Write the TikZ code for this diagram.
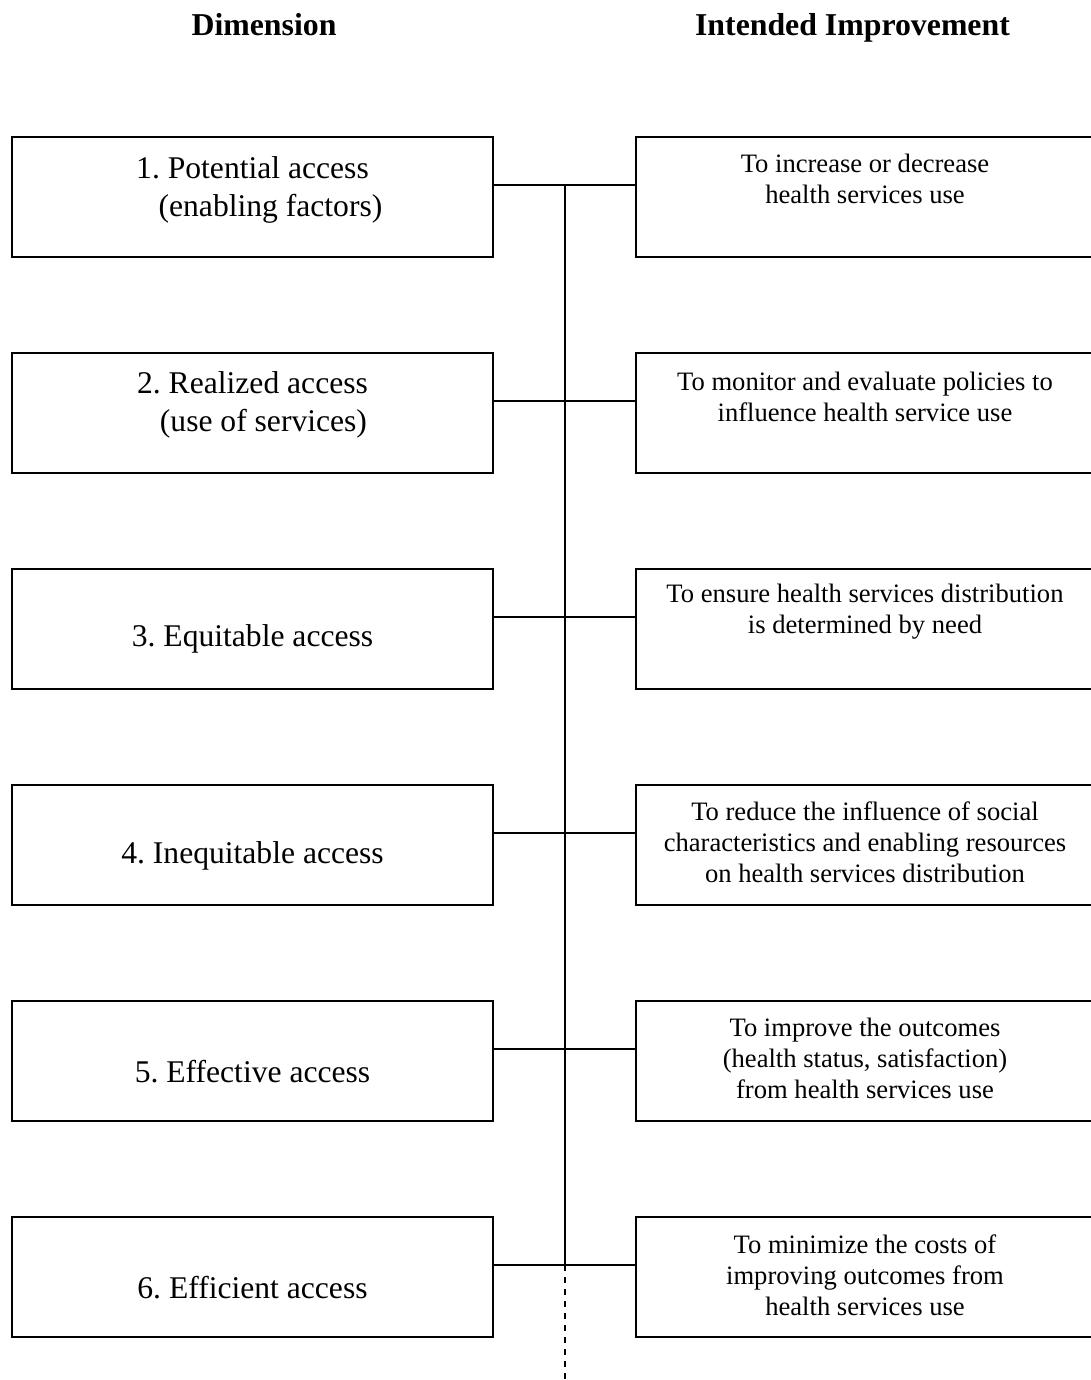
\documentclass[tikz,border=0pt]{standalone}
\usepackage{fontspec}
\setmainfont{Liberation Serif}
\tikzset{
    dimbox/.style={draw,line width=0.7pt,minimum width=240.5pt,minimum height=60pt,inner sep=0pt},
    impbox/.style={draw,line width=0.7pt,minimum width=229pt,minimum height=60pt,inner sep=0pt},
    dimtext/.style={align=center,inner sep=0pt,font=\fontsize{15.8}{19}\selectfont},
    imptext/.style={align=center,inner sep=0pt,font=\fontsize{13.3}{15.5}\selectfont},
    head/.style={inner sep=0pt,anchor=base,font=\bfseries\fontsize{15.9}{19}\selectfont},
    link/.style={line width=0.7pt}
}
% #1 row, #2 top edge, #3/#4 dimension text offset and text, #5/#6 improvement text offset and text
\newcommand{\dimrow}[6] {
    \node[dimbox] (L#1) at (252.5, {#2+60}) {};
    \node[impbox] (R#1) at (865, {#2+60}) {};
    \node[dimtext] (L#1t) at (252.5, {#2+#3}) {#4};
    \node[imptext] (R#1t) at (865, {#2+#5}) {#6};
    \coordinate (c#1) at (565, {#2+48});
    \draw[link] (L#1.east |- c#1) -- (R#1.west |- c#1);
}
\begin{document}
\begin{tikzpicture}[x=0.5pt,y=-0.5pt]
        \clip (0,0) rectangle (1091,1380);
        \node[head] (dimhead) at (264,35.5) {Dimension};
        \node[head] (imphead) at (852.5,35.5) {Intended Improvement};
        \dimrow{1}{137}{52.5}{1.\ Potential access\\\hspace*{18pt}(enabling factors)}{41.5}{To increase or decrease\\health services use}
        \dimrow{2}{353}{52}{2.\ Realized access\\\hspace*{11pt}(use of services)}{43.5}{To monitor and evaluate policies to\\influence health service use}
        \dimrow{3}{569}{70}{3.\ Equitable access}{42.5}{To ensure health services distribution\\is determined by need}
        \dimrow{4}{785}{71}{4.\ Inequitable access}{57}{To reduce the influence of social\\characteristics and enabling resources\\on health services distribution}
        \dimrow{5}{1001}{71}{5.\ Effective access}{57}{To improve the outcomes\\(health status, satisfaction)\\from health services use}
        \dimrow{6}{1217}{71}{6.\ Efficient access}{58}{To minimize the costs of\\improving outcomes from\\health services use}
        \coordinate (bot) at (565,1380);
        \draw[link] (c1) -- (c6);
        \draw[link,dash pattern=on 3pt off 3pt] (c6) -- (bot);
    \end{tikzpicture}
\end{document}
